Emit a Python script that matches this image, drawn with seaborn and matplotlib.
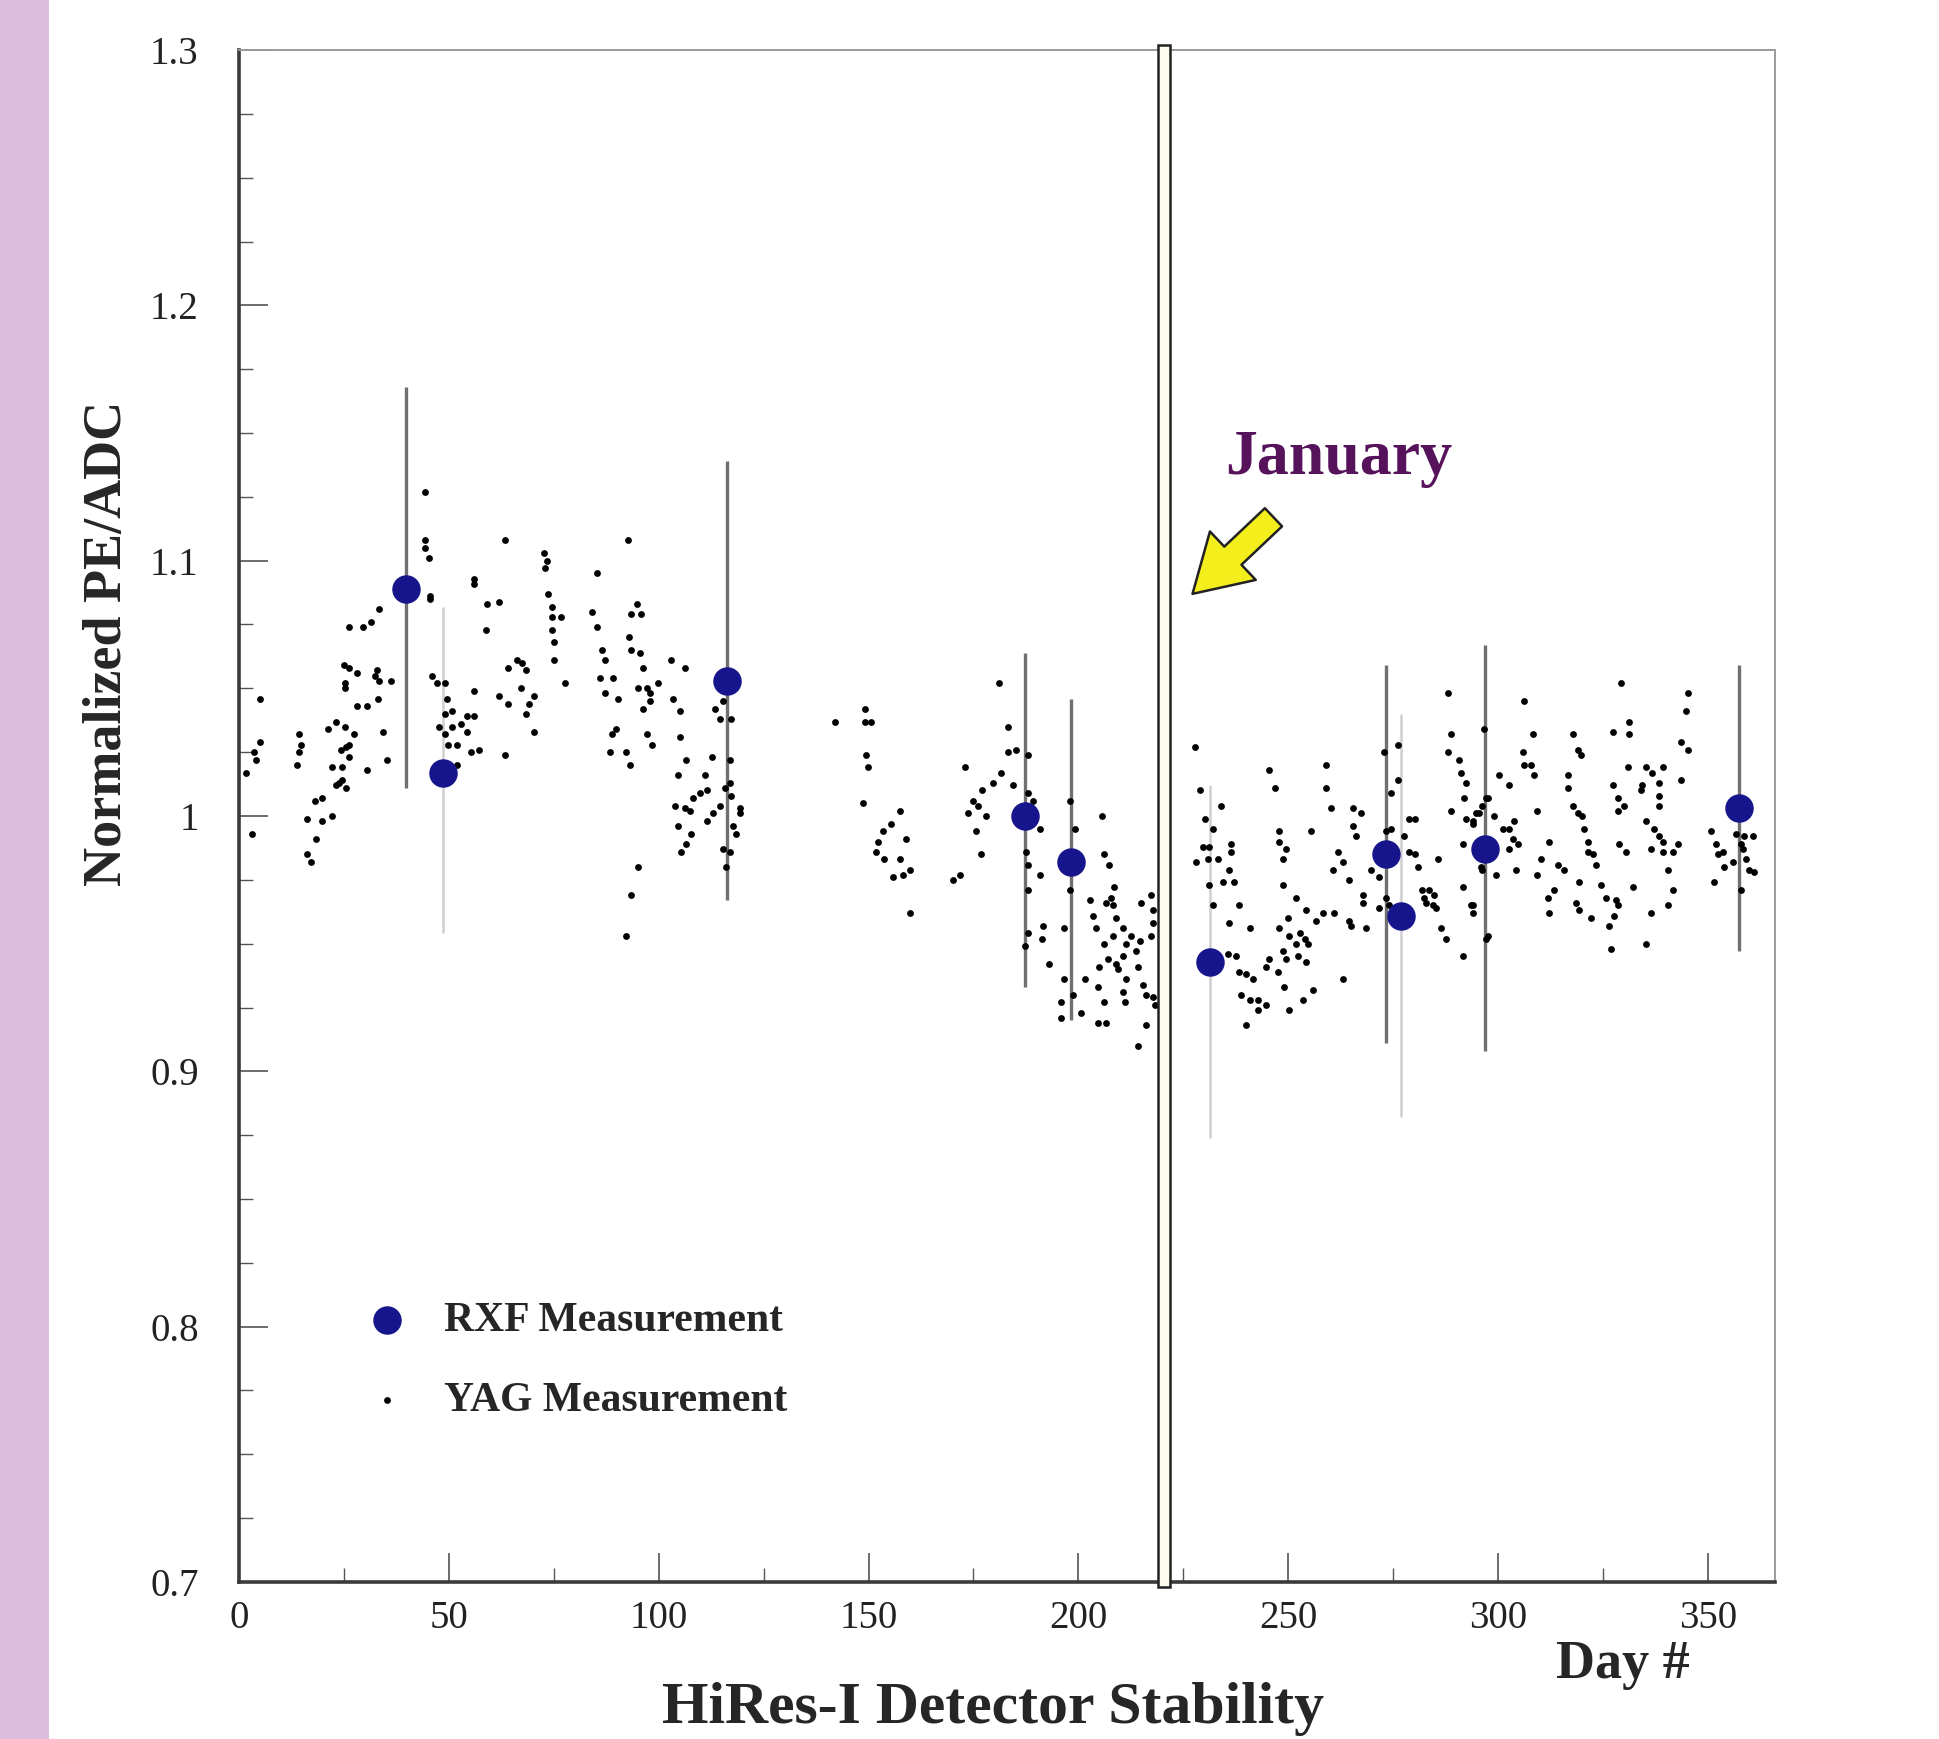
import pandas as pd
import seaborn as sns
import matplotlib.pyplot as plt
from matplotlib.patches import Rectangle
from matplotlib.ticker import MultipleLocator

# RXF measurements: day, normalized PE/ADC and the ends of each error bar
rxf_day = [39.8, 48.6, 116.4, 187.4, 198.3, 231.3, 273.4, 277.0, 297.0, 357.4]
rxf_ratio = [1.089, 1.017, 1.053, 1.000, 0.982, 0.943, 0.985, 0.961, 0.987, 1.003]
rxf_low = [1.011, 0.954, 0.967, 0.933, 0.920, 0.874, 0.911, 0.882, 0.908, 0.947]
rxf_high = [1.168, 1.082, 1.139, 1.064, 1.046, 1.012, 1.059, 1.040, 1.067, 1.059]

yag_day = [
    44.3, 44.3, 44.3, 45.2, 45.4, 45.4,
    33.3, 31.5, 29.5, 26.2,
    25.0, 26.2, 28.2, 32.9, 32.5, 33.3, 36.1,
    25.2, 25.2, 4.9, 33.2, 28.2, 30.6,
    21.3, 23.0, 25.2, 27.4, 34.3, 4.9,
    14.3, 14.7, 14.3, 13.9, 24.2, 25.4, 26.2, 26.2,
    3.6, 4.0, 1.6, 35.2, 30.6, 22.1, 24.6,
    23.0, 23.8, 25.4, 24.6, 18.1, 19.8,
    16.3, 19.8, 22.1, 3.2, 18.3, 16.3, 17.1,
    46.0, 47.2, 49.2, 49.6, 50.8, 49.2, 47.6,
    50.8, 52.8, 54.4, 56.0, 49.2, 54.4, 49.9, 52.0,
    55.2, 57.2, 52.0, 56.0, 56.0, 56.0,
    59.1, 61.9, 58.9, 63.3,
    64.1, 66.3, 67.5, 68.3, 61.9, 64.1, 67.3, 70.3, 69.1, 68.3,
    70.3, 63.3, 72.6, 73.4, 73.0, 73.7,
    74.6, 74.6, 74.6, 75.0, 75.0,
    76.8, 77.6,
    92.7, 85.2, 84.0, 85.2, 86.4, 87.2, 86.1, 89.0,
    87.2, 90.3, 94.9, 93.5, 95.9, 93.0, 93.5, 95.5,
    96.3, 95.1, 97.1, 97.9, 99.9, 97.9, 96.3,
    103.0, 106.2, 103.4, 105.0, 88.8, 89.9, 88.4, 92.3, 93.1,
    97.1, 98.3, 105.0, 106.6, 104.6, 111.0, 112.8,
    108.2, 109.8, 111.4, 103.8, 106.2, 107.4, 111.4, 113.0, 114.6,
    104.6, 107.8, 105.4, 106.6, 113.4, 114.6, 117.3, 115.4,
    116.9, 116.9, 115.7, 117.3, 119.3, 119.3,
    117.7, 118.5, 115.4, 116.9, 116.0,
    95.1, 93.3, 92.2, 141.9,
    149.1, 149.1, 149.5, 149.9, 148.7, 150.7,
    157.4, 155.4, 153.4, 152.3, 151.9, 153.8, 157.4, 159.0, 159.8, 158.2, 155.8, 160.0,
    173.1, 174.9, 176.1, 173.7, 178.1, 175.7, 176.9, 170.1, 171.7,
    177.1, 179.6, 181.6, 184.4, 181.1, 183.2, 183.2, 185.2,
    188.0, 188.0, 187.6, 188.0, 188.0, 188.0, 187.2,
    189.2, 190.8, 190.8, 191.6, 191.4, 193.1,
    197.9, 199.1, 197.9, 196.5,
    196.7, 195.9, 195.9, 198.7, 200.7, 201.7, 204.6, 206.2, 204.6, 206.6,
    205.7, 206.2, 207.4, 208.6, 207.8, 206.6, 208.2, 209.0,
    202.7, 203.5, 204.3, 206.2, 208.2, 210.6, 211.4, 212.6, 214.6,
    205.0, 207.0, 209.0, 210.6, 209.4, 211.4, 213.8, 214.2,
    215.0, 217.4, 217.8, 217.8, 217.4, 215.4, 216.2, 217.8, 218.2, 210.6, 211.0,
    216.2, 214.2,
    227.9, 228.9, 230.1, 232.0, 234.0,
    229.7, 231.2, 228.1, 230.8, 233.2, 236.4, 236.4, 236.0, 234.4, 237.2,
    231.2, 232.0, 236.0, 238.4, 235.6, 237.6,
    240.8, 238.4, 240.0, 241.6, 238.8, 240.8, 242.8, 244.7, 242.8, 240.0,
    245.5, 246.9, 247.8, 247.9, 249.5, 248.7, 248.7,
    251.9, 254.3, 258.2, 256.6,
    249.9, 247.9, 250.3, 252.7, 253.9, 251.9, 254.7, 248.7, 249.5, 252.3, 254.3, 245.5, 244.7, 247.5,
    249.1, 253.5, 255.9, 250.3,
    259.0, 259.0, 260.2, 255.5,
    261.8, 263.0, 260.6, 264.6, 261.0, 264.6, 265.0, 267.8, 268.6, 263.0,
    265.4, 267.4, 265.4, 266.2, 269.8, 271.7, 267.8, 271.7,
    272.9, 274.5, 273.3, 274.5, 273.3, 274.1,
    276.1, 276.1, 278.9, 280.1, 278.9, 280.1, 280.9, 277.7,
    282.0, 283.6, 282.4, 284.8, 284.4, 285.2, 282.8, 285.6,
    286.4, 287.6, 291.6, 291.6, 293.6, 294.0,
    288.0, 288.8, 288.0, 290.8, 291.2, 292.4, 292.0, 288.8,
    292.4, 294.0, 295.5, 297.1, 296.7, 291.6, 296.0, 297.1,
    306.3, 308.3, 305.9, 306.3, 307.9, 308.6, 300.3, 302.7,
    297.5, 296.3, 294.8, 294.0, 299.1, 301.1, 302.7, 303.9, 303.5, 304.7, 302.7, 304.3, 299.5, 296.3, 309.4, 312.2,
    294.0, 297.5, 310.2, 309.4, 311.8, 312.2, 313.4, 314.2, 315.8,
    317.8, 319.0, 319.8, 316.6, 316.6, 317.8, 319.0, 320.1, 320.6, 321.4, 321.4, 322.6, 323.3, 319.4, 318.6, 319.4, 322.2,
    324.5, 325.7, 328.1, 328.5, 327.7, 326.5, 326.9,
    329.3, 331.3, 331.3, 327.3, 330.9, 327.3, 328.5,
    330.1, 328.5, 328.9, 330.5, 332.1,
    335.2, 336.8, 339.2, 334.4, 334.0, 338.4, 338.4, 338.4,
    335.2, 337.2, 338.4, 339.2, 336.4, 339.2, 341.6, 342.8, 340.4, 341.6, 340.4, 336.4, 335.2,
    345.2, 344.8, 343.6, 345.2, 343.6,
    350.7, 351.9, 352.3, 353.5, 351.5, 353.9, 355.9,
    356.7, 358.7, 357.9, 358.3, 360.7, 359.1, 359.9, 361.1, 357.9,
]
yag_ratio = [
    1.127, 1.108, 1.105, 1.101, 1.085, 1.086,
    1.081, 1.076, 1.074, 1.074,
    1.059, 1.058, 1.056, 1.057, 1.055, 1.053, 1.053,
    1.052, 1.050, 1.046, 1.046, 1.043, 1.043,
    1.034, 1.037, 1.035, 1.032, 1.033, 1.029,
    1.032, 1.028, 1.025, 1.020, 1.026, 1.027, 1.028, 1.023,
    1.025, 1.022, 1.017, 1.022, 1.018, 1.019, 1.019,
    1.012, 1.013, 1.011, 1.014, 1.006, 1.007,
    0.999, 0.998, 1.000, 0.993, 0.991, 0.985, 0.982,
    1.055, 1.052, 1.052, 1.046, 1.041, 1.040, 1.035,
    1.035, 1.036, 1.039, 1.039, 1.032, 1.033, 1.028, 1.028,
    1.025, 1.026, 1.020, 1.049, 1.093, 1.091,
    1.083, 1.084, 1.073, 1.108,
    1.058, 1.061, 1.060, 1.057, 1.047, 1.044, 1.050, 1.047, 1.044, 1.040,
    1.033, 1.024, 1.103, 1.100, 1.097, 1.087,
    1.082, 1.078, 1.073, 1.068, 1.061,
    1.078, 1.052,
    1.108, 1.095, 1.080, 1.074, 1.065, 1.061, 1.054, 1.054,
    1.048, 1.046, 1.083, 1.079, 1.079, 1.070, 1.065, 1.064,
    1.058, 1.050, 1.050, 1.048, 1.052, 1.045, 1.042,
    1.061, 1.058, 1.046, 1.041, 1.032, 1.034, 1.025, 1.025, 1.020,
    1.032, 1.028, 1.031, 1.022, 1.016, 1.016, 1.023,
    1.007, 1.009, 1.010, 1.004, 1.003, 1.002, 0.998, 1.001, 1.004,
    0.996, 0.993, 0.986, 0.989, 1.042, 1.038, 1.038, 1.045,
    1.022, 1.013, 1.011, 1.008, 1.003, 1.001,
    0.996, 0.993, 0.987, 0.986, 0.980,
    0.980, 0.969, 0.953, 1.037,
    1.042, 1.037, 1.024, 1.019, 1.005, 1.037,
    1.002, 0.997, 0.994, 0.990, 0.986, 0.983, 0.983, 0.991, 0.979, 0.977, 0.976, 0.962,
    1.019, 1.006, 1.004, 1.001, 1.000, 0.994, 0.985, 0.975, 0.977,
    1.010, 1.013, 1.017, 1.012, 1.052, 1.035, 1.025, 1.026,
    1.024, 1.009, 0.986, 0.981, 0.971, 0.954, 0.949,
    1.006, 0.995, 0.977, 0.957, 0.952, 0.942,
    1.006, 0.995, 0.971, 0.956,
    0.936, 0.927, 0.921, 0.930, 0.923, 0.936, 0.933, 0.927, 0.919, 0.919,
    1.000, 0.985, 0.981, 0.972, 0.968, 0.966, 0.965, 0.960,
    0.967, 0.961, 0.956, 0.950, 0.953, 0.956, 0.950, 0.953, 0.951,
    0.941, 0.944, 0.942, 0.945, 0.940, 0.936, 0.947, 0.941,
    0.966, 0.969, 0.963, 0.958, 0.953, 0.934, 0.930, 0.929, 0.926, 0.931, 0.927,
    0.918, 0.910,
    1.027, 1.010, 0.999, 0.995, 1.004,
    0.988, 0.988, 0.982, 0.983, 0.983, 0.989, 0.986, 0.979, 0.974, 0.974,
    0.973, 0.965, 0.958, 0.965, 0.946, 0.945,
    0.956, 0.939, 0.938, 0.936, 0.930, 0.928, 0.928, 0.926, 0.924, 0.918,
    1.018, 1.011, 0.994, 0.990, 0.987, 0.983, 0.973,
    0.968, 0.963, 0.962, 0.959,
    0.960, 0.956, 0.953, 0.954, 0.952, 0.950, 0.950, 0.947, 0.944, 0.945, 0.943, 0.944, 0.941, 0.939,
    0.933, 0.928, 0.932, 0.924,
    1.020, 1.011, 1.003, 0.994,
    0.986, 0.982, 0.979, 0.975, 0.962, 0.959, 0.957, 0.969, 0.956, 0.936,
    1.003, 1.001, 0.996, 0.992, 0.979, 0.976, 0.966, 0.964,
    1.025, 1.009, 0.994, 0.995, 0.968, 0.965,
    1.028, 1.014, 0.999, 0.999, 0.986, 0.985, 0.980, 0.992,
    0.971, 0.971, 0.968, 0.969, 0.965, 0.964, 0.966, 0.983,
    0.956, 0.952, 0.945, 0.972, 0.965, 0.962,
    1.048, 1.032, 1.025, 1.022, 1.017, 1.013, 1.007, 1.002,
    0.999, 0.997, 1.001, 1.007, 1.034, 0.989, 0.980, 0.952,
    1.045, 1.032, 1.025, 1.020, 1.020, 1.016, 1.016, 1.012,
    1.007, 1.004, 1.001, 0.998, 1.000, 0.995, 0.995, 0.998, 0.991, 0.989, 0.987, 0.979, 0.977, 0.979, 1.002, 0.990,
    0.965, 0.953, 0.983, 0.977, 0.968, 0.962, 0.971, 0.981, 0.979,
    1.032, 1.026, 1.024, 1.016, 1.011, 1.004, 1.001, 1.000, 0.995, 0.990, 0.986, 0.985, 0.981, 0.974, 0.966, 0.963, 0.960,
    0.973, 0.968, 0.967, 0.965, 0.961, 0.957, 0.948,
    1.052, 1.037, 1.032, 1.033, 1.019, 1.012, 1.007,
    1.004, 1.002, 0.989, 0.986, 0.972,
    1.019, 1.017, 1.019, 1.012, 1.010, 1.013, 1.008, 1.004,
    0.998, 0.995, 0.992, 0.990, 0.987, 0.986, 0.986, 0.989, 0.979, 0.971, 0.965, 0.962, 0.950,
    1.048, 1.041, 1.029, 1.026, 1.014,
    0.994, 0.989, 0.985, 0.986, 0.974, 0.980, 0.982,
    0.993, 0.992, 0.989, 0.987, 0.992, 0.983, 0.979, 0.978, 0.971,
]

x_ticks = [0, 50, 100, 150, 200, 250, 300, 350]
y_ticks = [0.7, 0.8, 0.9, 1.0, 1.1, 1.2, 1.3]
y_tick_labels = ["0.7", "0.8", "0.9", "1", "1.1", "1.2", "1.3"]
january_day = 220.4

rxf = pd.DataFrame({"day": rxf_day, "ratio": rxf_ratio, "low": rxf_low, "high": rxf_high})
yag = pd.DataFrame({"day": yag_day, "ratio": yag_ratio})

sns.set_style("white")
serif = ["Liberation Serif", "DejaVu Serif"]
plt.rcParams["font.family"] = serif

fig = plt.figure(figsize=(19.4, 17.39), dpi=100)
# pink strip on the left edge of the slide
fig.patches.append(Rectangle((0, 0), 49 / 1940, 1, transform=fig.transFigure,
                             facecolor="#ddbddd", edgecolor="none", zorder=0))
ax = fig.add_axes([239 / 1940, 1 - 1582 / 1739, 1536 / 1940, 1532 / 1739])

# error bars: some of them are printed much lighter than the others
faint = rxf.index.isin([1, 5, 7])
ax.vlines(rxf.day[~faint], rxf.low[~faint], rxf.high[~faint], color="#707070", lw=2.4, zorder=2)
ax.vlines(rxf.day[faint], rxf.low[faint], rxf.high[faint], color="#cfcfcf", lw=1.8, zorder=2)

sns.scatterplot(data=yag, x="day", y="ratio", color="black", s=24, linewidth=0,
                label="YAG Measurement", ax=ax, zorder=3)
sns.scatterplot(data=rxf, x="day", y="ratio", color="#16158c", s=420, linewidth=0,
                label="RXF Measurement", ax=ax, zorder=4)

# January divider
ax.axvspan(january_day - 1.5, january_day + 1.5, ymin=-0.003, ymax=1.003, facecolor="#fbfbee",
           edgecolor="#222222", lw=1.8, zorder=5, clip_on=False)
ax.annotate("", xy=(227.2, 1.087), xytext=(246.5, 1.117),
            arrowprops=dict(arrowstyle="simple,head_length=1.0,head_width=1.2,tail_width=0.45",
                            fc="#f4ef1c", ec="#222222", lw=1.8, mutation_scale=40,
                            shrinkA=0, shrinkB=0), zorder=6)

ax.set_xlim(0, 366)
ax.set_ylim(0.7, 1.3)
ax.set_xticks(x_ticks)
ax.set_yticks(y_ticks)
ax.set_yticklabels(y_tick_labels)
ax.xaxis.set_minor_locator(MultipleLocator(25))
ax.yaxis.set_minor_locator(MultipleLocator(0.025))
ax.tick_params(which="both", bottom=True, left=True, top=False, right=False)
ax.tick_params(which="major", direction="in", length=21, width=1.1, color="#444444",
               labelsize=28, labelcolor="#222222")
ax.tick_params(which="minor", direction="in", length=10, width=1.0, color="#555555")
ax.tick_params(axis="x", which="major", pad=13)
ax.tick_params(axis="y", which="major", pad=29)

for side in ["left", "bottom"]:
    ax.spines[side].set_linewidth(2.6)
    ax.spines[side].set_color("#3a3a3a")
for side in ["top", "right"]:
    ax.spines[side].set_linewidth(1.4)
    ax.spines[side].set_color("#9a9a9a")

ax.set_xlabel("")
ax.set_ylabel("Normalized PE/ADC", fontsize=39, fontweight="bold")
ax.yaxis.set_label_coords(-0.069, 0.613)

handles, labels = ax.get_legend_handles_labels()
order = [labels.index("RXF Measurement"), labels.index("YAG Measurement")]
ax.legend([handles[i] for i in order], [labels[i] for i in order],
          loc="upper left", bbox_to_anchor=(0.083, 0.183), frameon=False,
          borderpad=0, borderaxespad=0, handlelength=1.0, handletextpad=0.85,
          labelspacing=1.0, prop={"family": serif, "weight": "bold", "size": 30})

fig.text(1225 / 1940, 1 - 474 / 1739, "January", color="#56135b", fontsize=46,
         fontweight="bold", va="baseline")
fig.text(1556 / 1940, 1 - 1678 / 1739, "Day #", fontsize=39, fontweight="bold", va="baseline")
fig.text(993 / 1940, 0.009, "HiRes-I Detector Stability", fontsize=43, fontweight="bold",
         ha="center", va="baseline")

plt.savefig("out.png", dpi=100)
